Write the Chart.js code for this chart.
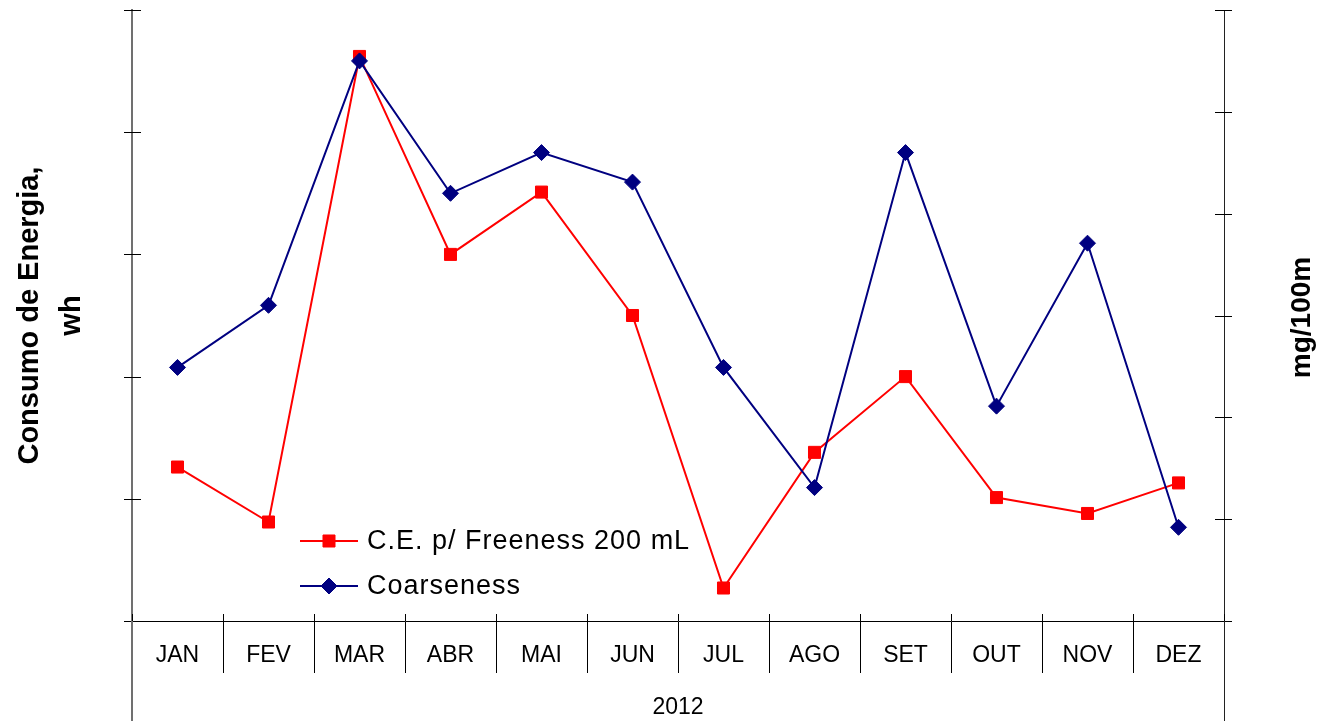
<!DOCTYPE html>
<html>
<head>
<meta charset="utf-8">
<title>Consumo de Energia x Coarseness 2012</title>
<script src="https://cdn.jsdelivr.net/npm/chart.js@4/dist/chart.umd.min.js"></script>
<style>
    html, body { margin: 0; padding: 0; background: #ffffff; }
    #wrap { width: 1319px; height: 721px; }
</style>
</head>
<body>
<div id="wrap"><canvas id="chart" width="1319" height="721"></canvas></div>
<script>
// values (axes carry no numbers, units are tick steps)
const months = ["JAN", "FEV", "MAR", "ABR", "MAI", "JUN", "JUL", "AGO", "SET", "OUT", "NOV", "DEZ"];
const consumoEnergia = [1.26, 0.81, 4.62, 3.00, 3.51, 2.50, 0.27, 1.38, 2.00, 1.01, 0.88, 1.13];
const coarseness = [2.49, 3.10, 5.50, 4.20, 4.60, 4.31, 2.49, 1.31, 4.60, 2.11, 3.71, 0.92];
const leftTicksMax = 5;
const rightTicksMax = 6;
const yearLabel = "2012";
const leftTitle = ["Consumo de Energia,", "wh"];
const rightTitle = "mg/100m";

Chart.defaults.font.family = "'Liberation Sans', Arial, sans-serif";
Chart.defaults.color = "#000";

const axisExtras = {
    id: 'axis_extras',
    afterDraw: (chart) => {
        const ctx = chart.ctx;
        const area = chart.chartArea;
        const yLeft = chart.scales.y;
        const yRight = chart.scales.y1;
        ctx.save();
        ctx.strokeStyle = "#000";
        ctx.lineWidth = 1;

        // tick marks crossing the two value axes
        yLeft.ticks.forEach((t, i) => {
            const py = Math.round(yLeft.getPixelForTick(i)) + 0.5;
            ctx.beginPath();
            ctx.moveTo(area.left - 8, py);
            ctx.lineTo(area.left + 9, py);
            ctx.stroke();
        });
        yRight.ticks.forEach((t, i) => {
            const py = Math.round(yRight.getPixelForTick(i)) + 0.5;
            ctx.beginPath();
            ctx.moveTo(area.right - 9, py);
            ctx.lineTo(area.right + 8, py);
            ctx.stroke();
        });

        // value axes run on down to the bottom edge
        ctx.strokeStyle = "#707070";
        ctx.lineWidth = 2;
        ctx.beginPath();
        ctx.moveTo(area.left, area.bottom);
        ctx.lineTo(area.left, chart.height);
        ctx.stroke();
        ctx.strokeStyle = "#222";
        ctx.lineWidth = 1;
        ctx.beginPath();
        ctx.moveTo(area.right + 0.5, area.bottom);
        ctx.lineTo(area.right + 0.5, chart.height);
        ctx.stroke();

        // category separators poke a little above the x axis
        ctx.strokeStyle = "#000";
        for (let i = 0; i <= months.length; i++) {
            const px = Math.round(area.left + (area.right - area.left) * i / months.length) + 0.5;
            ctx.beginPath();
            ctx.moveTo(px, area.bottom - 7);
            ctx.lineTo(px, area.bottom);
            ctx.stroke();
        }

        // right axis title, reading upwards
        ctx.save();
        ctx.translate(1302, (area.top + area.bottom) / 2 + 2);
        ctx.rotate(-Math.PI / 2);
        ctx.font = "bold 28px 'Liberation Sans', Arial, sans-serif";
        ctx.fillStyle = "#000";
        ctx.textAlign = "center";
        ctx.textBaseline = "middle";
        ctx.fillText(rightTitle, 0, 0);
        ctx.restore();

        // legend inside the plot, line + marker like the original
        const rows = [{ ds: chart.data.datasets[0], y: 541 }, { ds: chart.data.datasets[1], y: 586 }];
        rows.forEach(({ ds, y }) => {
            ctx.strokeStyle = ds.borderColor;
            ctx.lineWidth = 2;
            ctx.beginPath();
            ctx.moveTo(300, y);
            ctx.lineTo(358, y);
            ctx.stroke();
            ctx.fillStyle = ds.pointBackgroundColor;
            ctx.strokeStyle = ds.pointBorderColor;
            ctx.lineWidth = 1;
            Chart.helpers.drawPoint(ctx, { pointStyle: ds.pointStyle, radius: ds.pointRadius, rotation: 0, borderWidth: 1 }, 329, y);
            ctx.fillStyle = "#000";
            ctx.font = "27px 'Liberation Sans', Arial, sans-serif";
            ctx.letterSpacing = "1px";
            ctx.textAlign = "left";
            ctx.textBaseline = "middle";
            ctx.fillText(ds.label, 367, y + 1);
            ctx.letterSpacing = "0px";
        });
        ctx.restore();
    }
};

const chart = new Chart(
    document.getElementById('chart'),
    {
        type: 'line',
        plugins: [axisExtras],
        data: {
            labels: months,
            datasets: [
                {
                    label: "C.E. p/ Freeness 200 mL",
                    data: consumoEnergia,
                    yAxisID: 'y',
                    order: 1,
                    borderColor: "#ff0000",
                    backgroundColor: "#ff0000",
                    borderWidth: 2,
                    pointStyle: 'rect',
                    pointRadius: 8.5,
                    pointBackgroundColor: "#ff0000",
                    pointBorderColor: "#ff0000",
                    pointBorderWidth: 1,
                    tension: 0,
                    clip: false
                },
                {
                    label: "Coarseness",
                    data: coarseness,
                    yAxisID: 'y1',
                    order: 0,
                    borderColor: "#000080",
                    backgroundColor: "#000080",
                    borderWidth: 2,
                    pointStyle: 'rectRot',
                    pointRadius: 8,
                    pointBackgroundColor: "#000080",
                    pointBorderColor: "#000080",
                    pointBorderWidth: 1,
                    tension: 0,
                    clip: false
                }
            ]
        },
        options: {
            responsive: false,
            animation: false,
            devicePixelRatio: 1,
            layout: {
                padding: { top: 10, left: 0, right: 0, bottom: 0 }
            },
            plugins: {
                legend: { display: false },
                tooltip: { enabled: false }
            },
            scales: {
                x: {
                    position: 'bottom',
                    offset: true,
                    afterFit: (scale) => { scale.height = 100; },
                    grid: {
                        offset: true,
                        drawOnChartArea: false,
                        drawTicks: true,
                        tickLength: 52,
                        color: "#000",
                        lineWidth: 1
                    },
                    border: { display: true, color: "#000", width: 1 },
                    ticks: {
                        color: "#000",
                        font: { size: 23 },
                        padding: -31,
                        maxRotation: 0,
                        autoSkip: false
                    },
                    title: {
                        display: true,
                        text: yearLabel,
                        color: "#000",
                        font: { size: 23 },
                        padding: { top: 0, bottom: 0 }
                    }
                },
                y: {
                    position: 'left',
                    min: 0,
                    max: leftTicksMax,
                    afterFit: (scale) => { scale.width = 132; },
                    grid: { display: false },
                    border: { display: true, color: "#707070", width: 2 },
                    ticks: { display: false, stepSize: 1 },
                    title: {
                        display: true,
                        text: leftTitle,
                        color: "#000",
                        font: { size: 29, weight: 'bold', lineHeight: 1.45 },
                        padding: { top: 9, bottom: 0 }
                    }
                },
                y1: {
                    position: 'right',
                    min: 0,
                    max: rightTicksMax,
                    afterFit: (scale) => { scale.width = 95; },
                    grid: { display: false },
                    border: { display: true, color: "#222", width: 1 },
                    ticks: { display: false, stepSize: 1 }
                }
            }
        }
    }
);
</script>
</body>
</html>
